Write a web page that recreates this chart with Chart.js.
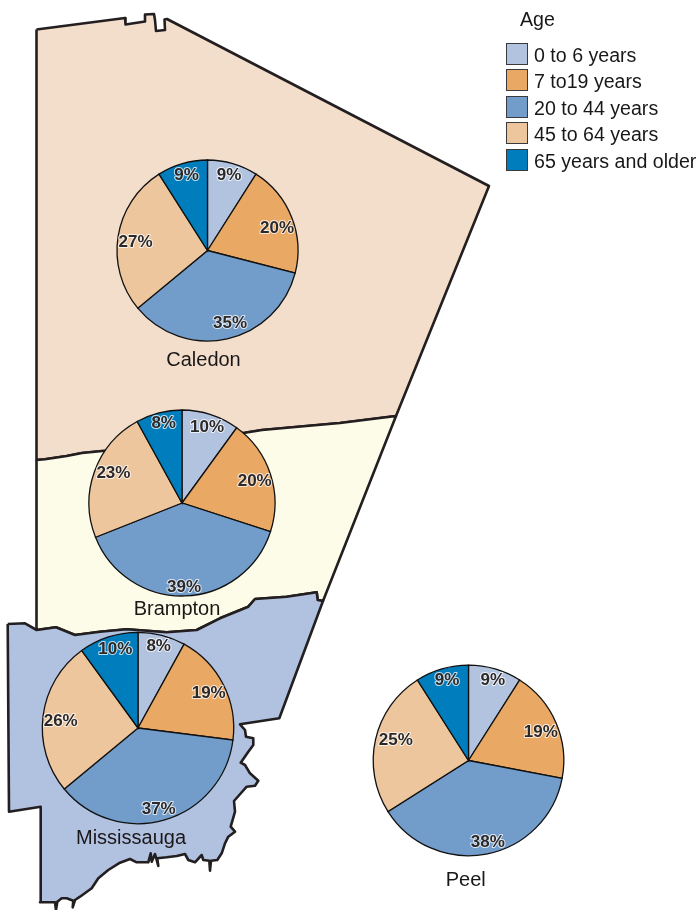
<!DOCTYPE html>
<html lang="en">
<head>
<meta charset="utf-8">
<title>Age by municipality, Peel</title>
<script src="https://cdn.jsdelivr.net/npm/chart.js@4"></script>
<style>
  html, body { margin: 0; padding: 0; background: #fff; }
  #page { position: relative; width: 697px; height: 910px; overflow: hidden; font-family: "Liberation Sans", Arial, sans-serif; color: #1a1718; }
  canvas { position: absolute; }
  .caption { position: absolute; font-size: 20px; line-height: 24px; transform: translate(-50%, -50%); white-space: nowrap; }
  .swatch { position: absolute; left: 505.5px; width: 20px; height: 20px; border: 1px solid #3a3a3c; }
  .legend-text { position: absolute; left: 534px; font-size: 19.6px; line-height: 24px; white-space: nowrap; }
</style>
</head>
<body>
<div id="page"><canvas id="map" width="697" height="910" style="left:0;top:0"></canvas></div>
<script>
// Data
const ageGroups = ['0 to 6 years', '7 to19 years', '20 to 44 years', '45 to 64 years', '65 years and older'];
const caledon = [9, 20, 35, 27, 9];
const brampton = [10, 20, 39, 23, 8];
const mississauga = [8, 19, 37, 26, 10];
const peel = [9, 19, 38, 25, 9];

// Municipal outlines, in map units
const caledonOutline = [
  [36.5,29.5],[125,18],[125.5,24.5],[145,21.5],[145,14.5],[154,14],[155,20],[156,31],[165,30],[164.5,19.5],[167,19],
  [489,186],[396,416],[340,423],[262,430],[245,432.7],[105,450.7],[82,453],[66.7,456],[45,459.3],[36.5,460]
];
const bramptonOutline = [
  [36.5,460],[45,459.3],[66.7,456],[82,453],[105,450.7],[245,432.7],[262,430],[340,423],[396,416],[323,601],
  [317.7,600],[316.7,592.3],[286.7,596.7],[255,599],[248.3,606.7],[220,618.3],[196.7,630],[166.7,632.3],
  [126.7,629.3],[100,631.7],[75,635],[56,627.3],[36.7,630]
];
const mississaugaOutline = [
  [7.7,624],[25,623.3],[36.7,630],[56,627.3],[75,635],[100,631.7],[126.7,629.3],[166.7,632.3],
  [196.7,630],[220,618.3],[248.3,606.7],[255,599],[286.7,596.7],[316.7,592.3],[317.7,600],[323,601],[279.3,718.3],
  [240,724.3],[245,730],[246,736.7],[253.3,738.3],[253.3,745],[248.3,751.7],[240.7,762.7],[245,765],[250,773.3],
  [258.3,780.7],[255,785.7],[246.7,786.7],[239.3,795],[234,801],[235,811.7],[230.7,826.7],[235,831.7],[228.3,836.7],
  [225,843.3],[221.7,853.3],[217.3,860],[211,860.7],[210,870.7],[209.3,860.7],[203.3,860],[201.7,855],[195,862.3],
  [188.3,860],[185,854],[176.7,856],[166.7,857.3],[157.3,858.3],[158.3,866],[155,854],[151.7,861.7],[150.7,853.3],
  [148.3,862.3],[136.7,862.3],[130,859],[120,862.7],[108.3,870],[98.3,878.3],[91.7,888.3],[80,896.7],[75,900],
  [72.7,907.3],[73.3,900.7],[66.7,898.3],[61.7,898.3],[57.3,901.7],[56,910],[55,902.3],[40,902.3],
  [40.7,806.7],[9,811.7]
];

const sliceColors = ['#b2c3e0', '#e9a965', '#729dca', '#eec69d', '#007dbd'];
const outlineColor = '#231f20';

// Page placement of each pie, with where its labels sit relative to the centre
const pies = [
  { name: 'Caledon', values: caledon, cx: 207.5, cy: 250, r: 90.5, capX: 203.5, capY: 359,
    labels: [[21.5,-76],[69.5,-23],[22.5,72],[-72,-9],[-21,-76]] },
  { name: 'Brampton', values: brampton, cx: 182.3, cy: 503, r: 93, capX: 177, capY: 608,
    labels: [[25,-76],[72.7,-22],[2,84],[-68.6,-30.3],[-18.3,-80.7]] },
  { name: 'Mississauga', values: mississauga, cx: 137.7, cy: 728, r: 95.7, capX: 131, capY: 837,
    labels: [[20.7,-82],[70.7,-35.3],[20.7,81],[-77.3,-7.3],[-22.7,-79]] },
  { name: 'Peel', values: peel, cx: 468.7, cy: 760.3, r: 95.3, capX: 465.8, capY: 879,
    labels: [[24.3,-81],[72.3,-29],[19.3,80.7],[-72.7,-21],[-21.4,-81]] }
];

const page = document.getElementById('page');
const toPoints = outline => outline.map(p => ({ x: p[0], y: p[1] }));

function region(outline, fillColor) {
  return {
    data: toPoints(outline),
    showLine: true,
    fill: 'shape',
    backgroundColor: fillColor,
    borderColor: outlineColor,
    borderWidth: 2.6,
    borderJoinStyle: 'round',
    pointRadius: 0,
    tension: 0
  };
}

// Background map; the first dataset draws on top
const closeLoop = outline => outline.concat([outline[0]]);
new Chart(document.getElementById('map'), {
  type: 'scatter',
  data: {
    datasets: [
      region(closeLoop(mississaugaOutline), '#b1c2e0'),
      region(closeLoop(bramptonOutline), '#fdfce8'),
      region(closeLoop(caledonOutline), '#f3decb')
    ]
  },
  options: {
    responsive: false,
    animation: false,
    layout: { padding: 0 },
    plugins: { legend: { display: false }, tooltip: { enabled: false } },
    scales: {
      x: { display: false, type: 'linear', min: 0, max: 697 },
      y: { display: false, type: 'linear', min: 0, max: 910, reverse: true }
    }
  }
});

// Percent labels with their pale halo
const percentLabels = {
  id: 'percentLabels',
  afterDatasetsDraw(chart, args, opts) {
    const ctx = chart.ctx;
    const arcs = chart.getDatasetMeta(0).data;
    ctx.save();
    ctx.font = 'bold 17px "Liberation Sans", Arial, sans-serif';
    ctx.textAlign = 'center';
    ctx.textBaseline = 'middle';
    ctx.lineJoin = 'round';
    arcs.forEach((arc, i) => {
      const text = chart.data.datasets[0].data[i] + '%';
      const x = arc.x + opts.offsets[i][0];
      const y = arc.y + opts.offsets[i][1] + 0.7;
      ctx.strokeStyle = 'rgba(255,255,255,0.75)';
      ctx.lineWidth = 2;
      ctx.strokeText(text, x, y);
      ctx.fillStyle = '#2b2829';
      ctx.fillText(text, x, y);
    });
    ctx.restore();
  }
};

pies.forEach(pie => {
  const size = Math.ceil(pie.r * 2) + 24;
  const canvas = document.createElement('canvas');
  canvas.width = size;
  canvas.height = size;
  canvas.style.left = (pie.cx - size / 2) + 'px';
  canvas.style.top = (pie.cy - size / 2) + 'px';
  page.appendChild(canvas);

  new Chart(canvas, {
    type: 'pie',
    data: {
      labels: ageGroups,
      datasets: [{
        data: pie.values,
        backgroundColor: sliceColors,
        borderColor: '#111',
        borderWidth: 1.3,
        borderJoinStyle: 'miter'
      }]
    },
    options: {
      responsive: false,
      animation: false,
      radius: pie.r,
      layout: { padding: 0 },
      plugins: {
        legend: { display: false },
        tooltip: { enabled: false },
        percentLabels: { offsets: pie.labels }
      }
    },
    plugins: [percentLabels]
  });

  const cap = document.createElement('div');
  cap.className = 'caption';
  cap.textContent = pie.name;
  cap.style.left = pie.capX + 'px';
  cap.style.top = pie.capY + 'px';
  page.appendChild(cap);
});

// Legend
const legendTop = [42.5, 69, 95.7, 122.3, 149];
const title = document.createElement('div');
title.className = 'legend-text';
title.textContent = 'Age';
title.style.left = '520px';
title.style.top = '7px';
page.appendChild(title);

ageGroups.forEach((group, i) => {
  const box = document.createElement('div');
  box.className = 'swatch';
  box.style.top = legendTop[i] + 'px';
  box.style.background = sliceColors[i];
  page.appendChild(box);

  const label = document.createElement('div');
  label.className = 'legend-text';
  label.textContent = group;
  label.style.top = legendTop[i] + 'px';
  page.appendChild(label);
});
</script>
</body>
</html>
